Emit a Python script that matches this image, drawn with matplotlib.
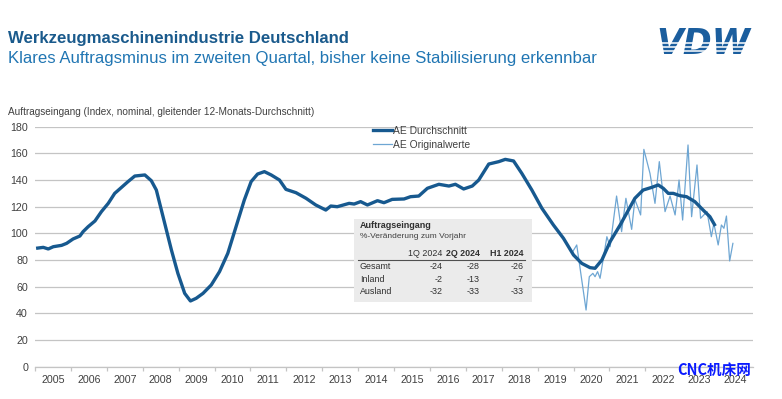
import matplotlib
matplotlib.use("Agg")
import matplotlib.pyplot as plt
from matplotlib.patches import Rectangle
from matplotlib.lines import Line2D

plt.rcParams['font.family'] = ['Liberation Sans', 'DejaVu Sans']

# 12-month moving average (AE Durchschnitt)
avg_t = [2005.03, 2005.23, 2005.37, 2005.51, 2005.74, 2005.88, 2006.06, 2006.25,
         2006.34, 2006.48, 2006.67, 2006.85, 2007.04, 2007.22, 2007.41, 2007.59,
         2007.78, 2008.06, 2008.24, 2008.38, 2008.52, 2008.66, 2008.80, 2008.98,
         2009.17, 2009.33, 2009.49, 2009.68, 2009.91, 2010.14, 2010.37, 2010.60,
         2010.83, 2011.02, 2011.20, 2011.39, 2011.58, 2011.81, 2011.99, 2012.27,
         2012.55, 2012.82, 2013.10, 2013.24, 2013.42, 2013.75, 2013.89, 2014.07,
         2014.26, 2014.54, 2014.72, 2014.95, 2015.28, 2015.46, 2015.69, 2015.93,
         2016.25, 2016.53, 2016.71, 2016.94, 2017.18, 2017.36, 2017.64, 2017.92,
         2018.10, 2018.33, 2018.56, 2018.84, 2019.12, 2019.44, 2019.72, 2020.00,
         2020.23, 2020.46, 2020.60, 2020.79, 2021.02, 2021.30, 2021.53, 2021.71,
         2021.94, 2022.18, 2022.36, 2022.50, 2022.64, 2022.78, 2022.96, 2023.15,
         2023.38, 2023.61, 2023.80, 2023.95]
avg_v = [88.8, 89.5, 88.3, 90.0, 91.0, 92.5, 95.8, 98.0,
         101.3, 105.0, 109.3, 116.3, 122.5, 130.0, 134.5, 138.8,
         143.0, 143.8, 139.5, 132.5, 117.5, 102.5, 87.5, 70.0,
         55.0, 49.3, 51.3, 55.0, 61.3, 71.3, 85.0, 105.0,
         125.0, 138.8, 144.5, 146.3, 143.8, 140.0, 133.0, 130.5,
         126.3, 121.3, 117.5, 120.5, 120.0, 122.5, 122.0, 123.8,
         121.3, 124.5, 123.0, 125.5, 125.8, 127.5, 128.0, 133.8,
         136.8, 135.5, 136.8, 133.3, 135.5, 140.0, 152.0, 153.8,
         155.5, 154.3, 145.0, 132.5, 118.8, 106.3, 96.3, 83.8,
         77.5, 74.3, 73.8, 80.0, 93.8, 106.3, 117.5, 126.3,
         132.5, 134.5, 136.3, 133.8, 130.0, 130.0, 128.3, 127.5,
         123.8, 117.5, 112.5, 105.5]

# monthly original values (AE Originalwerte), shown from 2020 on
orig_t = [2019.95, 2020.09, 2020.35, 2020.44, 2020.54, 2020.60, 2020.67, 2020.74,
          2020.93, 2021.02, 2021.20, 2021.34, 2021.46, 2021.62, 2021.71, 2021.87,
          2021.96, 2022.13, 2022.27, 2022.39, 2022.55, 2022.69, 2022.83, 2022.94,
          2023.04, 2023.19, 2023.29, 2023.44, 2023.54, 2023.72, 2023.84, 2023.91,
          2024.03, 2024.12, 2024.19, 2024.26, 2024.35, 2024.44]
orig_v = [85.0, 91.3, 42.5, 67.5, 70.0, 67.5, 71.3, 66.3,
          97.5, 90.0, 128.0, 101.3, 126.3, 103.0, 125.5, 113.8,
          163.0, 145.0, 122.5, 153.8, 116.3, 128.0, 113.8, 140.0,
          110.0, 166.3, 112.5, 151.3, 111.3, 116.3, 97.5, 107.5,
          91.3, 106.3, 103.8, 113.0, 79.3, 92.5]

years = list(range(2005, 2025))

table_cols = ["1Q 2024", "2Q 2024", "H1 2024"]
table_rows = ["Gesamt", "Inland", "Ausland"]
table_vals = [[-24, -28, -26],
              [-2, -13, -7],
              [-32, -33, -33]]

W, H = 782, 399
dark_blue = "#17598f"
light_blue = "#6ea6d3"
grid_col = "#c4c4c4"
txt_col = "#404040"


def fx(px):
    return px / W


def fy(py):
    return 1 - py / H


fig = plt.figure(figsize=(W / 100, H / 100), dpi=100)
ax = fig.add_axes([fx(35), fy(366.7), fx(753) - fx(35), fy(126.7) - fy(366.7)])

ax.plot(orig_t, orig_v, color=light_blue, linewidth=0.9, label="AE Originalwerte", zorder=2)
ax.plot(avg_t, avg_v, color=dark_blue, linewidth=2.4, label="AE Durchschnitt",
        solid_capstyle="butt", zorder=3)

ax.set_xlim(2005, 2025)
ax.set_ylim(0, 180)
ax.set_yticks(range(0, 181, 20))
ax.yaxis.grid(True, color=grid_col, linewidth=0.9)
ax.set_axisbelow(True)
for s in ["top", "right", "left"]:
    ax.spines[s].set_visible(False)
ax.spines["bottom"].set_color(grid_col)
ax.spines["bottom"].set_linewidth(0.9)
ax.tick_params(axis="y", length=0, pad=5, labelsize=7.7, labelcolor=txt_col)

ax.set_xticks(years)
ax.set_xticklabels([])
ax.set_xticks([y + 0.5 for y in years], minor=True)
ax.set_xticklabels([str(y) for y in years], minor=True)
ax.tick_params(axis="x", which="major", length=3, color=grid_col, width=0.9)
ax.tick_params(axis="x", which="minor", length=0, pad=6, labelsize=7.7, labelcolor=txt_col)

# legend, thick line first
handles = [Line2D([], [], color=dark_blue, linewidth=2.4),
           Line2D([], [], color=light_blue, linewidth=0.9)]
fig.legend(handles, ["AE Durchschnitt", "AE Originalwerte"], loc="upper left",
           bbox_to_anchor=(fx(372.5), fy(126)), frameon=False, fontsize=7.4,
           handlelength=1.85, handletextpad=0.1, borderpad=0, borderaxespad=0,
           labelspacing=0.35, labelcolor=txt_col)

# titles
fig.text(fx(8), fy(43), "Werkzeugmaschinenindustrie Deutschland", fontsize=12.1,
         fontweight="bold", color="#1a5a8c", va="baseline")
fig.text(fx(8), fy(63.5), "Klares Auftragsminus im zweiten Quartal, bisher keine Stabilisierung erkennbar",
         fontsize=12.1, color="#2176b3", va="baseline")
fig.text(fx(8), fy(112), "Auftragseingang (Index, nominal, gleitender 12-Monats-Durchschnitt)",
         fontsize=7.2, color=txt_col, va="center")

# VDW logo with white stripes through the lower half
fig.text(fx(703), fy(53.5), "VDW", fontsize=25, fontweight="heavy", style="italic",
         family="DejaVu Sans", color="#1b5e9e", ha="center", va="baseline", zorder=3)
for py in [42.5, 46.5, 50.5]:
    fig.add_artist(Line2D([fx(650), fx(758)], [fy(py), fy(py)], color="white",
                          linewidth=1.1, zorder=4))

# table box
fig.add_artist(Rectangle((fx(354), fy(301.7)), fx(531.7) - fx(354), fy(219) - fy(301.7),
                         facecolor="#ebebeb", edgecolor="none", zorder=5))
fig.text(fx(360), fy(225), "Auftragseingang", fontsize=6.5, fontweight="bold",
         color="#303030", va="center", zorder=6)
fig.text(fx(360), fy(237), "%-Veränderung zum Vorjahr", fontsize=6, color=txt_col,
         va="center", zorder=6)
col_x = [442.5, 480, 523.5]
for i, c in enumerate(table_cols):
    fig.text(fx(col_x[i]), fy(253.3), c, fontsize=6.4, ha="right", va="center",
             fontweight="normal" if i == 0 else "bold", color="#303030", zorder=6)
fig.add_artist(Line2D([fx(358), fx(525)], [fy(259.5), fy(259.5)], color="#505050",
                      linewidth=0.8, zorder=6))
row_y = [266.7, 279, 291]
for r, name in enumerate(table_rows):
    fig.text(fx(360), fy(row_y[r]), name, fontsize=6.4, va="center", color="#303030", zorder=6)
    for i, v in enumerate(table_vals[r]):
        fig.text(fx(col_x[i]), fy(row_y[r]), str(v), fontsize=6.4, ha="right", va="center",
                 color="#303030", zorder=6)

# watermark
fig.text(fx(714), fy(370), "CNC机床网", fontsize=10.5, fontweight="bold", color="#0a1aff",
         family=["Noto Sans CJK SC", "DejaVu Sans"], ha="center", va="center", zorder=7)

fig.savefig("out.png", dpi=100)
